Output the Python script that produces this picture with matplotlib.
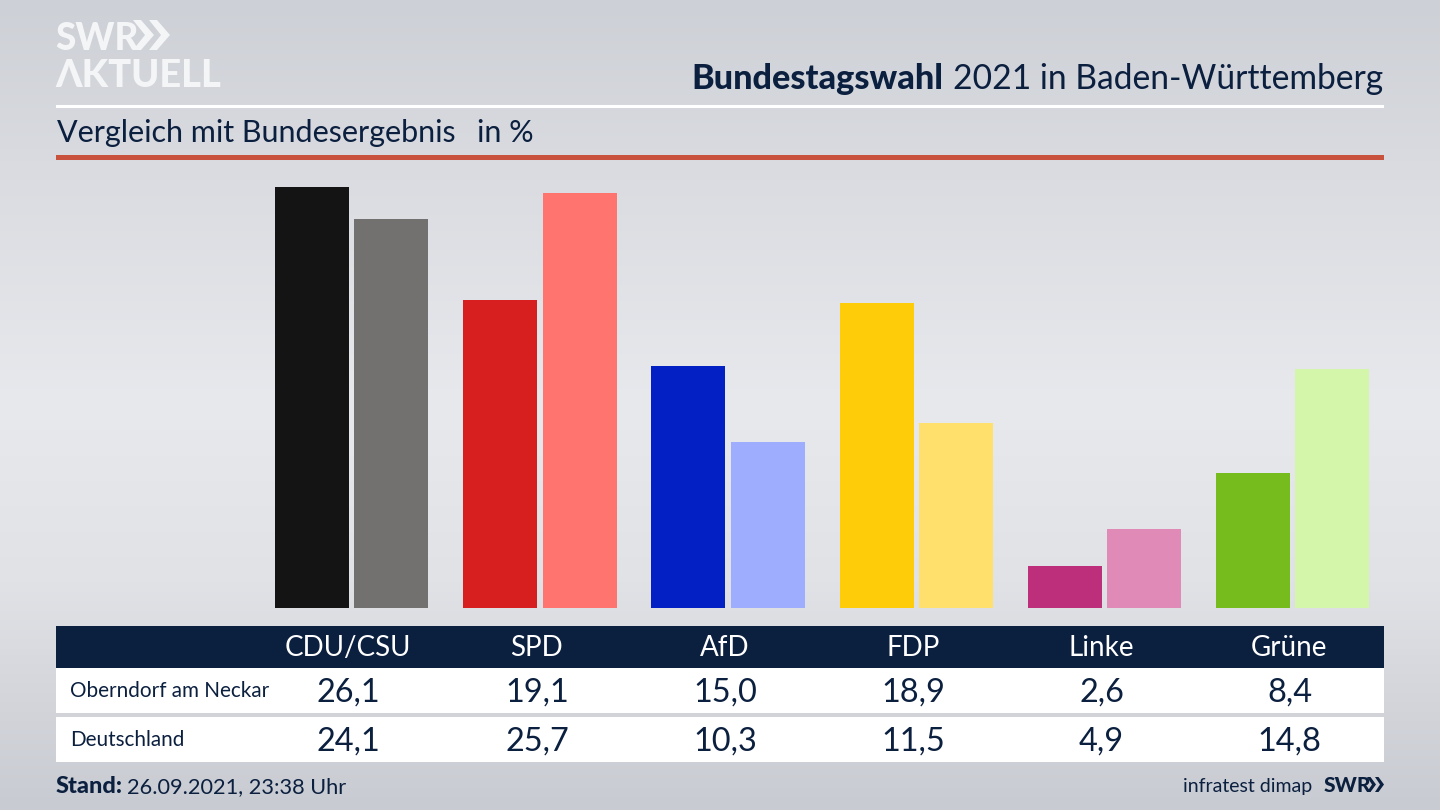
import numpy as np
import matplotlib
matplotlib.use("Agg")
import matplotlib.pyplot as plt
from matplotlib.patches import Rectangle, Polygon
from matplotlib.colors import LinearSegmentedColormap

parties = ["CDU/CSU", "SPD", "AfD", "FDP", "Linke", "Grüne"]
local_label = "Oberndorf am Neckar"
national_label = "Deutschland"
local_values = [26.1, 19.1, 15.0, 18.9, 2.6, 8.4]
national_values = [24.1, 25.7, 10.3, 11.5, 4.9, 14.8]
local_colors = ["#141414", "#d81f20", "#0220c4", "#ffcc0a", "#bd2f7b", "#76bc1c"]
national_colors = ["#72716f", "#ff746f", "#9fadff", "#ffe06d", "#e08ab8", "#d4f6ab"]

NAVY = "#0b1f3f"
FONT = "Lato"
plt.rcParams["font.family"] = [FONT, "DejaVu Sans"]

W, H = 1440, 810
fig = plt.figure(figsize=(14.4, 8.1), dpi=100)
bg = fig.add_axes([0, 0, 1, 1])
bg.set_xlim(0, W); bg.set_ylim(H, 0); bg.axis("off")

# background gradient
cmap = LinearSegmentedColormap.from_list("bg", [
    (0.00, "#cdd0d6"), (0.20, "#d9dbe0"), (0.50, "#e8e9ed"),
    (0.72, "#e0e2e6"), (0.88, "#d2d4da"), (1.00, "#c8cbd1")])
yy = np.linspace(0, 1, 256)[:, None]
grad = yy * np.ones((256, 256))
rgb = cmap(grad)[:, :, :3]
bg.imshow(rgb, extent=(0, W, H, 0), aspect="auto", zorder=0)

def px(size):
    return size * 0.72

# logo
LOGO = "#f4f5f6"
bg.text(55, 50, "SWR", color=LOGO, fontsize=px(37), fontweight="black",
        ha="left", va="baseline", zorder=2)
for x0 in (133, 149):
    bg.add_patch(Polygon([(x0, 20), (x0 + 8, 20), (x0 + 21, 35), (x0 + 8, 50), (x0, 50), (x0 + 12, 35)],
                         closed=True, fc=LOGO, ec="none", zorder=2))
bg.text(55, 87, "ΛKTUELL", color=LOGO, fontsize=px(38), fontweight="black",
        ha="left", va="baseline", zorder=2)

# header rules
bg.add_patch(Rectangle((56, 104.5), 1328, 3, fc="white", ec="none", zorder=2))
bg.add_patch(Rectangle((56, 155), 1328, 5, fc="#c9523f", ec="none", zorder=2))

# title
t = bg.text(1383, 89, "2021 in Baden-Württemberg", color=NAVY, fontsize=px(33.7), ha="right", va="baseline", zorder=3)
fig.canvas.draw()
ext = t.get_window_extent()
bg.text(ext.x0 - 9, 89, "Bundestagswahl", color=NAVY, fontsize=px(34.3), fontweight="black",
        ha="right", va="baseline", zorder=3)
bg.text(57, 142, "Vergleich mit Bundesergebnis", color=NAVY, fontsize=px(30.5), ha="left", va="baseline", zorder=3)
bg.text(477, 142, "in %", color=NAVY, fontsize=px(30.5), ha="left", va="baseline", zorder=3)

# bars
x0_px, x1_px, top_px, base_px = 56, 1384, 160, 608
group_px = 188.2
first_px = 351.6
label_px = 348.3
scale = 16.13
ax = fig.add_axes([x0_px / W, 1 - base_px / H, (x1_px - x0_px) / W, (base_px - top_px) / H], facecolor="none")
ax.set_xlim((x0_px - first_px) / group_px, (x1_px - first_px) / group_px)
ax.set_ylim(0, (base_px - top_px) / scale)
ax.axis("off")
pos = np.arange(len(parties))
off = 39.7 / group_px
bw = 74.0 / group_px
ax.bar(pos - off, local_values, width=bw, color=local_colors, linewidth=0)
ax.bar(pos + off, national_values, width=bw, color=national_colors, linewidth=0)

# table
bg.add_patch(Rectangle((56, 626), 1328, 42, fc=NAVY, ec="none", zorder=2))
bg.add_patch(Rectangle((56, 668), 1328, 45, fc="white", ec="none", zorder=2))
bg.add_patch(Rectangle((56, 717), 1328, 45, fc="white", ec="none", zorder=2))
centers = label_px + pos * group_px
for c, p, a, b in zip(centers, parties, local_values, national_values):
    bg.text(c, 656, p, color="white", fontsize=px(27.8), ha="center", va="baseline", zorder=3)
    bg.text(c + 0.5, 702, f"{a:.1f}".replace(".", ","), color=NAVY, fontsize=px(32.5), ha="center", va="baseline", zorder=3)
    bg.text(c + 0.5, 751, f"{b:.1f}".replace(".", ","), color=NAVY, fontsize=px(32.5), ha="center", va="baseline", zorder=3)
bg.text(70, 697, local_label, color=NAVY, fontsize=px(20.6), ha="left", va="baseline", zorder=3)
bg.text(70, 746, national_label, color=NAVY, fontsize=px(20.6), ha="left", va="baseline", zorder=3)

# footer
s = bg.text(56, 793, "Stand:", color=NAVY, fontsize=px(23.5), fontweight="black", ha="left", va="baseline", zorder=3)
fig.canvas.draw()
bg.text(s.get_window_extent().x1 + 4, 793, "26.09.2021, 23:38 Uhr", color=NAVY, fontsize=px(21.8),
        ha="left", va="baseline", zorder=3)
bg.text(1312, 792, "infratest dimap", color=NAVY, fontsize=px(19.5), ha="right", va="baseline", zorder=3)
bg.text(1324, 792, "SWR", color=NAVY, fontsize=px(21), fontweight="black", ha="left", va="baseline", zorder=3)
for x in (1367, 1375):
    bg.add_patch(Polygon([(x, 777), (x + 3.5, 777), (x + 9, 784.5), (x + 3.5, 792), (x, 792), (x + 5, 784.5)],
                         closed=True, fc=NAVY, ec="none", zorder=3))

fig.savefig("out.png", dpi=100)
